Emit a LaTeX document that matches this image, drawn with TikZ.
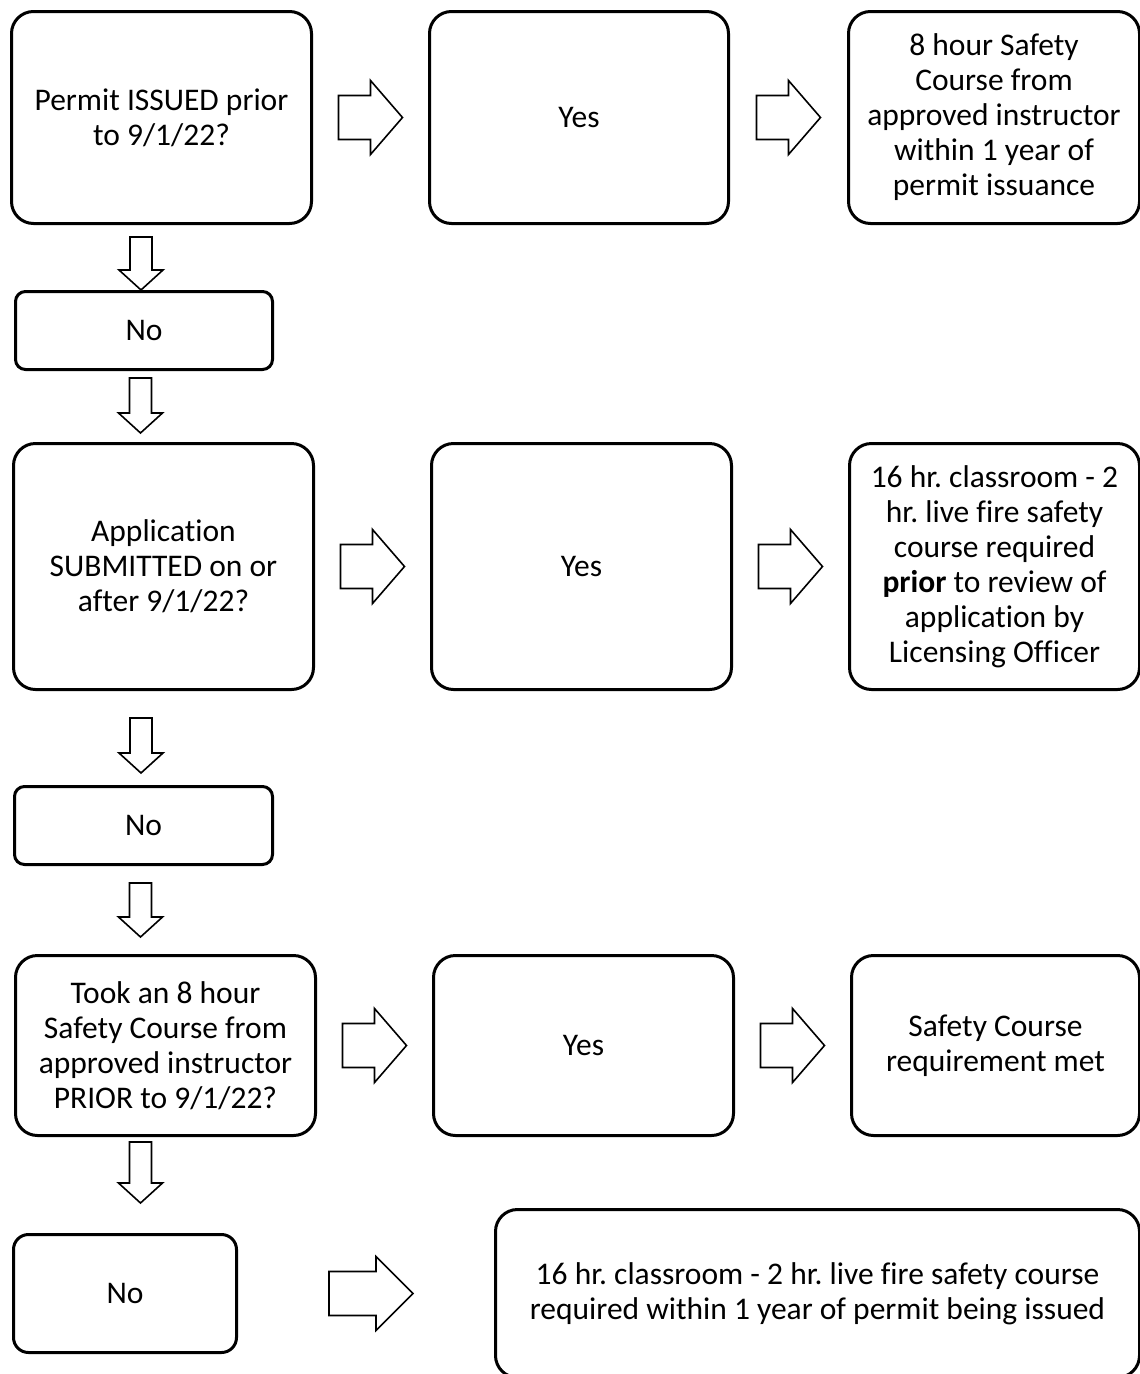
\documentclass[tikz,border=0pt]{standalone}
\usepackage{fontspec}
\setmainfont[Ligatures=NoCommon]{Carlito}
\usetikzlibrary{calc}
\frenchspacing
\tikzset{
  box/.style={draw=black, line width=3pt, rounded corners=22pt, fill=white,
    align=center, font=\fontsize{31.5}{35}\selectfont\frenchspacing, inner sep=0pt,
    anchor=north west},
  smallbox/.style={box, rounded corners=10pt},
  blockarrow/.style={draw=black, line width=1.6pt, fill=white, line join=miter},
  pics/rarrow/.style args={#1/#2}{code={
    \draw[blockarrow] (-#1,-22) -- (#2,-22) -- (#2,-37) -- (#1,0) -- (#2,37) -- (#2,22) -- (-#1,22) -- cycle;}},
  pics/darrow/.style={code={
    \draw[blockarrow] (-11,-#1) -- (11,-#1) -- (11,-20) -- (22,-20) -- (0,0) -- (-22,-20) -- (-11,-20) -- cycle;}},
}
\begin{document}
\begin{tikzpicture}[x=1pt,y=-1pt]
\useasboundingbox (0,0) rectangle (1140,1374);
\begin{scope}
\clip (0,0) rectangle (1140,1374);
% row 1
\node[box, minimum width=300pt, minimum height=212pt] (a1) at (10,10) {Permit ISSUED prior\\to 9/1/22?};
\node[box, minimum width=299pt, minimum height=212pt] (y1) at (428,10) {Yes};
\node[box, minimum width=291pt, minimum height=212pt] (r1) at (847,10) {8 hour Safety\\Course from\\approved instructor\\within 1 year of\\permit issuance};
\node[smallbox, minimum width=257pt, minimum height=78pt] (n1) at (14,290) {No};
% row 2
\node[box, minimum width=300pt, minimum height=246pt] (a2) at (12,442) {Application\\SUBMITTED on or\\after 9/1/22?};
\node[box, minimum width=300pt, minimum height=246pt] (y2) at (430,442) {Yes};
\node[box, minimum width=290pt, minimum height=246pt] (r2) at (848,442) {16 hr. classroom - 2\\hr. live fire safety\\course required\\\textbf{prior} to review of\\application by\\Licensing Officer};
\node[smallbox, minimum width=258pt, minimum height=78pt] (n2) at (13,785) {No};
% row 3
\node[box, minimum width=300pt, minimum height=180pt] (a3) at (14,954) {Took an 8 hour\\Safety Course from\\approved instructor\\PRIOR to 9/1/22?};
\node[box, minimum width=300pt, minimum height=180pt] (y3) at (432,954) {Yes};
\node[box, minimum width=288pt, minimum height=180pt] (r3) at (850,954) {Safety Course\\requirement met};
\node[box, rounded corners=15pt, minimum width=223pt, minimum height=118pt] (n3) at (12,1233) {No};
\node[box, minimum width=644pt, minimum height=168pt] (r4) at (494,1208) {16 hr. classroom - 2 hr. live fire safety course\\required within 1 year of permit being issued};
% right arrows
\path ($(a1.east)!0.5!(y1.west)$) pic {rarrow=32/0};
\path ($(y1.east)!0.5!(r1.west)$) pic {rarrow=32/0};
\path ($(a2.east)!0.5!(y2.west)$) pic {rarrow=32/0};
\path ($(y2.east)!0.5!(r2.west)$) pic {rarrow=32/0};
\path ($(a3.east)!0.5!(y3.west)$) pic {rarrow=32/0};
\path ($(y3.east)!0.5!(r3.west)$) pic {rarrow=32/0};
\path ($(n3.east)!0.5!(r4.west)+(5,0)$) pic {rarrow=42/5};
% down arrows
\path ([xshift=-3pt]n1.north) pic {darrow=53};
\path ([xshift=-23pt,yshift=9pt]a2.north) pic {darrow=55};
\path ([xshift=-2.5pt,yshift=12pt]n2.north) pic {darrow=55};
\path ([xshift=-25pt,yshift=17pt]a3.north) pic {darrow=54};
\path ([xshift=15.5pt,yshift=30pt]n3.north) pic {darrow=61};
\end{scope}
\end{tikzpicture}
\end{document}
